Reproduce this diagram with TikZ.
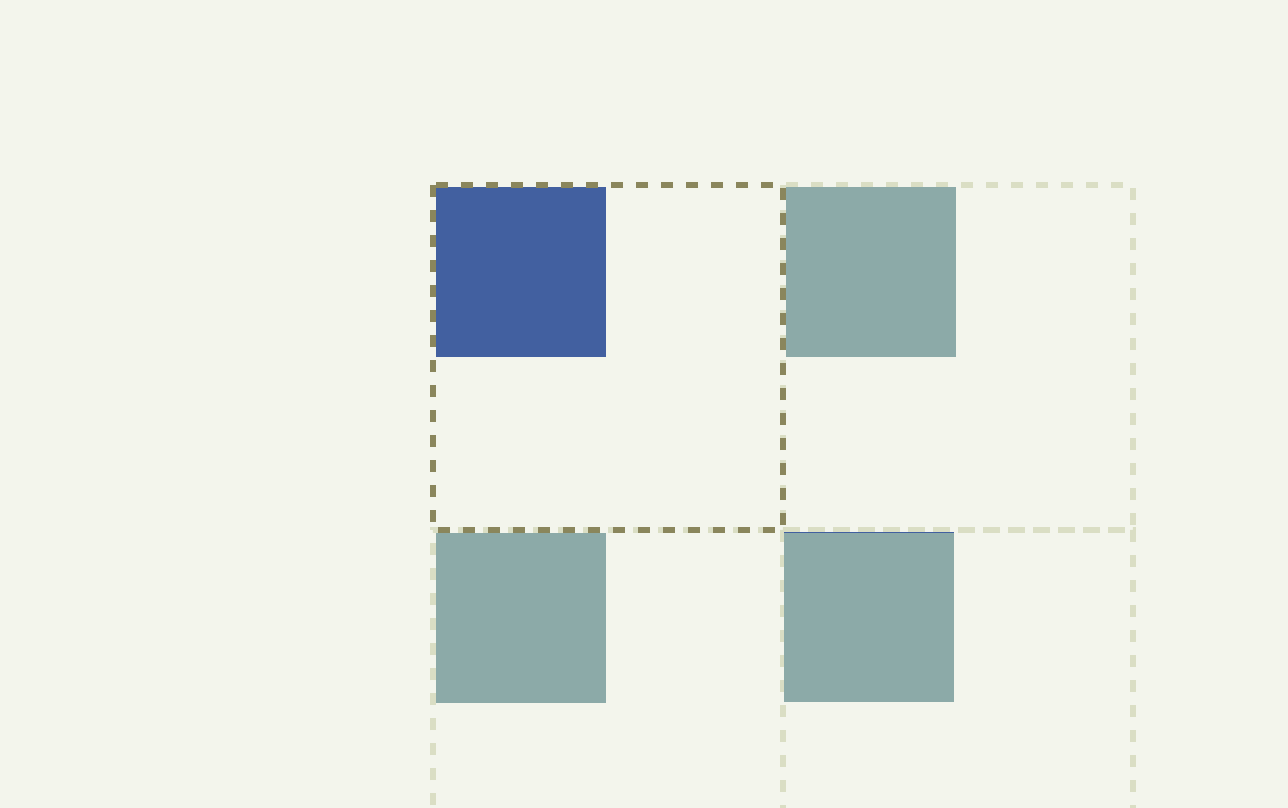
\documentclass[tikz,border=0pt]{standalone}
\begin{document}
\begin{tikzpicture}[x=1pt,y=-1pt,
  cellfaint/.style={draw=faintc,line width=5.5pt,dash pattern=on 12pt off 13pt},
  celldark/.style={draw=darkc,line width=5.5pt,dash pattern=on 12pt off 13pt}]
\definecolor{bgc}{RGB}{243,245,236}
\definecolor{faintc}{RGB}{218,222,196}
\definecolor{darkc}{RGB}{138,134,92}
\definecolor{bluec}{RGB}{66,96,160}
\definecolor{grayc}{RGB}{140,170,168}
\useasboundingbox (0,0) rectangle (1288,808);
\fill[bgc] (0,0) rectangle (1288,808);
% faint cells
\draw[cellfaint] (783,185) rectangle (1133,530);
\draw[cellfaint] (433,830) -- (433,530) -- (783,530) -- (783,830);
\draw[cellfaint] (783,530) -- (1133,530) -- (1133,830);
% boxes
\fill[bluec] (436,187) rectangle (606,357);
\fill[grayc] (786,187) rectangle (956,357);
\fill[grayc] (436,533) rectangle (606,703);
\fill[grayc] (784,532) rectangle (954,702);
\draw[bluec,line width=1pt] (784,532) -- (954,532);
% active cell
\draw[celldark] (433,185) rectangle (783,530);
\end{tikzpicture}
\end{document}
